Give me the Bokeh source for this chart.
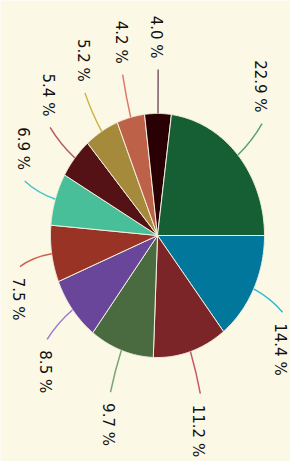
import numpy as np
from bokeh.plotting import figure
from bokeh.models import Range1d
from bokeh.core.properties import value
from bokeh.embed import file_html
from bokeh.resources import INLINE

# data (clockwise from 3 o'clock, as drawn)
shares = [14.4, 11.2, 9.7, 8.5, 7.5, 6.9, 5.4, 5.2, 4.2, 4.0, 22.9]
labels = [f"{s} %" for s in shares]
slice_colors = ["#00779b", "#7b2529", "#4a6b40", "#6a469a", "#993326", "#48bf98",
                "#551216", "#a58a3b", "#bd6149", "#290004", "#165e34"]
line_colors = ["#30b8d2", "#c45a6a", "#7aa672", "#9a7ad2", "#d0604c", "#44c4cc",
               "#b45a6c", "#ccb440", "#e07a68", "#7a5a66", "#58a470"]

BG = "#fcf8e6"

p = figure(width=290, height=461, output_backend="svg", toolbar_location=None,
           x_range=Range1d(-157 / 107, 133 / 107), y_range=Range1d(-226 / 122, 235 / 122),
           min_border=0, background_fill_color=BG, border_fill_color=BG,
           outline_line_color=None)
p.axis.visible = False
p.grid.visible = False

vals = np.array(shares, dtype=float)
frac = vals / vals.sum()
ends = -np.cumsum(frac) * 2 * np.pi
starts = np.concatenate([[0.0], ends[:-1]])

xs, ys = [], []
for a0, a1 in zip(starts, ends):
    t = np.linspace(a0, a1, 80)
    xs.append(np.concatenate([[0.0], np.cos(t), [0.0]]))
    ys.append(np.concatenate([[0.0], np.sin(t), [0.0]]))
p.patches(xs, ys, fill_color=slice_colors, line_color="#f4f0e0", line_width=1)

mid = (starts + ends) / 2
c, s = np.cos(mid), np.sin(mid)
sg = np.where(s >= 0, 1.0, -1.0)
x0, y0 = c * 1.0, s * 1.0
cx, cy = c * 1.18, s * 1.18
x1, y1 = c * 1.3, s * 1.3 + 0.06 * sg
p.quadratic(x0=x0, y0=y0, x1=x1, y1=y1, cx=cx, cy=cy, line_color=line_colors, line_width=1.5)

gap = 11 / 122
up = s >= 0
p.text(x=x1[up] - 0.02, y=y1[up] + gap, text=[l for l, u in zip(labels, up) if u], angle=-np.pi / 2,
       text_align="right", text_baseline="middle", text_font=value("DejaVu Sans"),
       text_font_size="15px", text_color="#111111")
dn = ~up
p.text(x=x1[dn] - 0.02, y=y1[dn] - gap, text=[l for l, u in zip(labels, dn) if u], angle=-np.pi / 2,
       text_align="left", text_baseline="middle", text_font=value("DejaVu Sans"),
       text_font_size="15px", text_color="#111111")

html = file_html(p, INLINE)
html = html.replace("<body>", f'<body style="background:{BG}">', 1)
open("out.html", "w").write(html)
